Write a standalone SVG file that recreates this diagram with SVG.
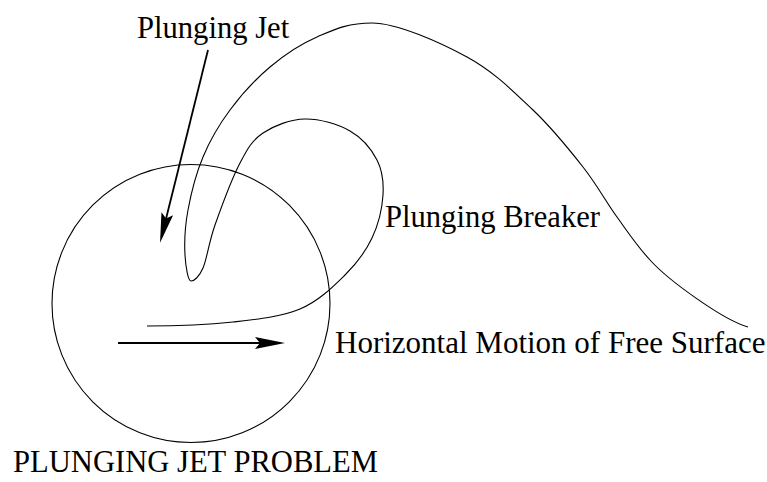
<svg xmlns="http://www.w3.org/2000/svg" width="767" height="482" viewBox="0 0 767 482">
<style>
.ln{fill:none;stroke:#000;stroke-width:1.1}
.ar{fill:none;stroke:#000;stroke-width:1.8}
text{font-family:"Liberation Serif",serif;fill:#000}
</style>
<defs>
<marker id="ah" markerUnits="userSpaceOnUse" markerWidth="32" markerHeight="14" viewBox="0 0 32 14" refX="24" refY="7" orient="auto">
<path d="M0,1 L30,7 L0,13 L5,7 Z" fill="#000"/>
</marker>
</defs>
<rect width="767" height="482" fill="#fff"/>
<g id="region-circle">
<circle class="ln" cx="191" cy="303.5" r="139"/>
</g>
<g id="wave-surface">
<path class="ln" d="M748,327 C723,320 668,280 650,260 C636.2,245 628.2,232.5 617,217 C605.8,201.5 597,184.8 583,167 C569,149.2 552.3,128.3 533,110 C513.7,91.7 493.8,71.5 467,57 C440.2,42.5 397,23 372,23 C347,23 334,29.7 317,37 C300,44.3 284.5,54.8 270,67 C255.5,79.2 241.2,95 230,110 C218.8,125 210,140.3 203,157 C196,173.7 191,193.7 188,210 C185,226.3 184.3,243.3 185,255 C185.7,266.7 188,281 191,281 C194,281 199,277.3 203,268 C207,258.7 208.8,242.5 215,225 C221.2,207.5 232,178.3 240,163 C248,147.7 252.2,140.3 263,133 C273.8,125.7 290.5,119.3 305,119 C319.5,118.7 338,124.2 350,131 C362,137.8 371.5,149.3 377,160 C382.5,170.7 383.8,182 383,195 C382.2,208 378.3,224.7 372,238 C365.7,251.3 357,263.2 345,275 C333,286.8 318.7,301.2 300,309 C281.3,316.8 258.5,319.2 233,322 C207.5,324.8 167,326 147,326"/>
</g>
<g id="connectors">
<line class="ar" x1="208" y1="50" x2="161.5" y2="237" marker-end="url(#ah)"/>
<line class="ar" x1="118" y1="343" x2="279" y2="343" marker-end="url(#ah)"/>
</g>
<g id="label-plunging-jet"><text x="137" y="38" font-size="30.6">Plunging Jet</text></g>
<g id="label-plunging-breaker"><text x="385" y="227" font-size="30.6">Plunging Breaker</text></g>
<g id="label-horizontal-motion"><text x="335" y="353" font-size="31">Horizontal Motion of Free Surface</text></g>
<g id="label-title"><text x="13" y="472" font-size="30.6">PLUNGING JET PROBLEM</text></g>
</svg>
